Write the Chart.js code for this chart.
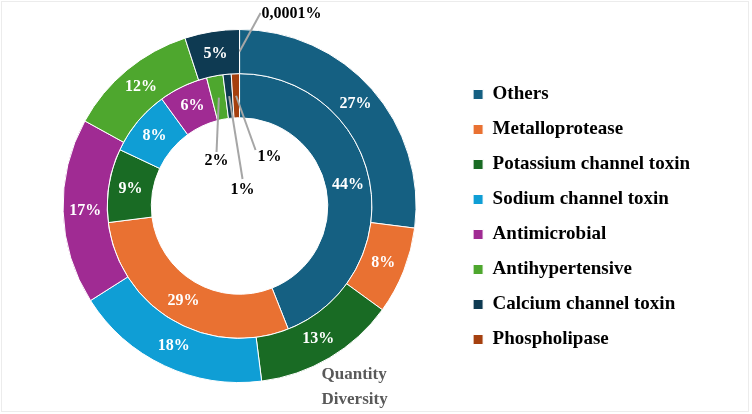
<!DOCTYPE html>
<html>
<head>
<meta charset="utf-8">
<script src="https://cdn.jsdelivr.net/npm/chart.js@4.4.1/dist/chart.umd.min.js"></script>
<style>
html, body { margin: 0; padding: 0; background: #fff; }
#wrap { position: relative; width: 752px; height: 414px; }
#frame { position: absolute; left: 1px; top: 1px; width: 746px; height: 409px; border: 1px solid #ececec; pointer-events: none; }
</style>
</head>
<body>
<div id="wrap"><canvas id="chart"></canvas><div id="frame"></div></div>
<script>
// data
const categories = ['Others', 'Metalloprotease', 'Potassium channel toxin', 'Sodium channel toxin',
    'Antimicrobial', 'Antihypertensive', 'Calcium channel toxin', 'Phospholipase'];
const quantity = [27, 8, 13, 18, 17, 12, 5, 0.0001];
const diversity = [44, 29, 9, 8, 6, 2, 1, 1];
const quantityLabels = ['27%', '8%', '13%', '18%', '17%', '12%', '5%', '0,0001%'];
const diversityLabels = ['44%', '29%', '9%', '8%', '6%', '2%', '1%', '1%'];
const ringNames = ['Quantity', 'Diversity'];

const colors = ['#156082', '#E97132', '#196B24', '#0F9ED5', '#A02B93', '#4EA72E', '#0E3A52', '#A5400F'];
const serif = "'Liberation Serif', 'Times New Roman', serif";

// small slices labelled outside with a leader line (offsets from the centre)
const callouts = [
    {ds: 0, i: 7, end: [21, -193], text: [22, -192], align: 'left'},
    {ds: 1, i: 5, end: [-23, -54], text: [-23, -45], align: 'center'},
    {ds: 1, i: 6, end: [3, -27], text: [3, -16], align: 'center'},
    {ds: 1, i: 7, end: [16, -56], text: [30, -49], align: 'center'}
];

const sliceLabels = {
    id: 'sliceLabels',
    afterDatasetsDraw(chart) {
        const ctx = chart.ctx;
        const texts = [quantityLabels, diversityLabels];
        ctx.save();
        ctx.font = 'bold 16px ' + serif;
        ctx.textBaseline = 'middle';
        let cx = 0, cy = 0;
        chart.data.datasets.forEach((ds, d) => {
            const meta = chart.getDatasetMeta(d);
            meta.data.forEach((arc, i) => {
                cx = arc.x; cy = arc.y;
                if (callouts.some(c => c.ds == d && c.i == i)) return;
                const p = arc.tooltipPosition();
                ctx.fillStyle = '#fff';
                ctx.textAlign = 'center';
                ctx.fillText(texts[d][i], p.x, p.y);
            });
        });
        callouts.forEach(c => {
            const arc = chart.getDatasetMeta(c.ds).data[c.i];
            const p = arc.tooltipPosition();
            ctx.strokeStyle = '#a6a6a6';
            ctx.lineWidth = 2;
            ctx.beginPath();
            ctx.moveTo(p.x, p.y);
            ctx.lineTo(cx + c.end[0], cy + c.end[1]);
            ctx.stroke();
            ctx.fillStyle = '#000';
            ctx.textAlign = c.align;
            ctx.fillText(texts[c.ds][c.i], cx + c.text[0], cy + c.text[1]);
        });
        // ring names
        ctx.font = 'bold 17px ' + serif;
        ctx.fillStyle = '#595959';
        ctx.textAlign = 'left';
        ctx.fillText(ringNames[0], cx + 82, cy + 169);
        ctx.fillText(ringNames[1], cx + 82, cy + 194);
        ctx.restore();
    }
};

new Chart(document.getElementById('chart'), {
    type: 'doughnut',
    data: {
        labels: categories,
        datasets: [{
            label: ringNames[0],
            data: quantity,
            backgroundColor: colors,
            borderColor: '#fff',
            borderWidth: 1
        }, {
            label: ringNames[1],
            data: diversity,
            backgroundColor: colors,
            borderColor: '#fff',
            borderWidth: 1
        }]
    },
    options: {
        responsive: true,
        maintainAspectRatio: false,
        animation: false,
        cutout: '50%',
        layout: {padding: {left: 22, right: 52, top: 29, bottom: 31}},
        plugins: {
            tooltip: {enabled: false},
            legend: {
                position: 'right',
                title: {display: true, text: '', font: {size: 10, lineHeight: 1}, padding: 6},
                labels: {
                    boxWidth: 10,
                    boxHeight: 10,
                    padding: 16,
                    color: '#000',
                    font: {family: serif, size: 19, weight: 'bold'}
                }
            }
        }
    },
    plugins: [sliceLabels]
});
</script>
</body>
</html>
